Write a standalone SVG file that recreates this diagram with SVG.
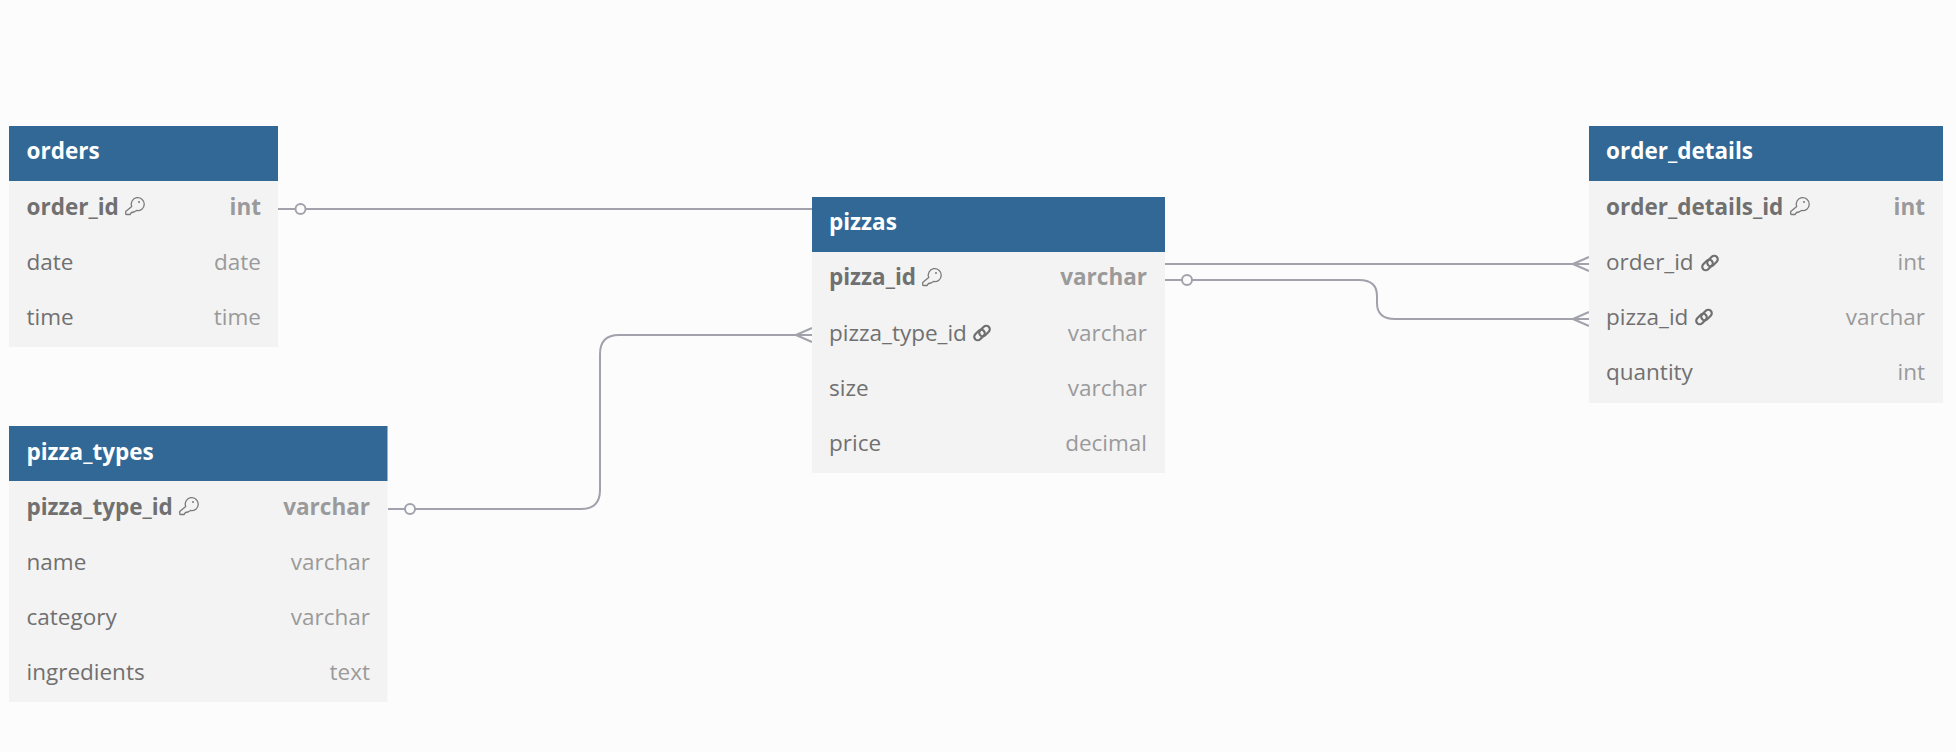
<svg xmlns="http://www.w3.org/2000/svg" width="1956" height="752" viewBox="0 0 1956 752">
<style>
text{font-family:"Open Sans","Noto Sans","DejaVu Sans",sans-serif;font-size:22.5px}
.h{fill:#316896}
.b{fill:#f3f3f3}
.t{fill:#fff;font-weight:700}
.n{fill:#707070}
.y{fill:#9a9a9a;text-anchor:end}
.pk{font-weight:700}
.c{fill:none;stroke:#a2a2ad;stroke-width:2}
.o{fill:#fcfcfc;stroke:#a2a2ad;stroke-width:2}
.k{fill:none;stroke:#7a7a7a;stroke-width:1.3;stroke-linejoin:round}
.l{fill:none;stroke:#6f6f6f;stroke-width:2.200}
</style>
<defs>
<symbol id="key" viewBox="0 0 19 19" overflow="visible"><path class="k" d="M6.700 9.500A6.500 6.500 0 1 1 11.500 13.500L9 15 6.500 15.500 5 17.500 1.500 17.500Q.7 17.500 .7 16.500V14.500Z"/><circle cx="14" cy="5" r="1" fill="#7a7a7a"/></symbol>
<symbol id="link" viewBox="0 0 18 18" overflow="visible"><rect class="l" x="5.500" y="3.500" width="12" height="7" rx="3.500" transform="rotate(-45 11.500 7)"/><rect class="l" x="0.500" y="7.500" width="12" height="7" rx="3.500" transform="rotate(-45 6.500 11)"/></symbol>
</defs>
<rect width="1956" height="752" fill="#fcfcfc"/>
<g id="connectors">
<path class="c" d="M278 209H812"/><circle class="o" cx="300.500" cy="209" r="5"/>
<path class="c" d="M388 509H581Q600 509 600 490V354Q600 335 619 335H812M796 335L812 328M796 335L812 342"/><circle class="o" cx="410" cy="509" r="5"/>
<path class="c" d="M1165 264H1589M1573 264L1589 257M1573 264L1589 271"/>
<path class="c" d="M1165 280H1359Q1377 280 1377 296V303Q1377 319 1395 319H1589M1573 319L1589 312M1573 319L1589 326"/><circle class="o" cx="1187" cy="280" r="5"/>
</g>
<g id="orders">
<rect class="b" x="9" y="126" width="269" height="221"/><rect class="h" x="9" y="126" width="269" height="55"/>
<text class="t" x="26.500" y="159">orders</text>
<text class="n pk" x="26.500" y="215">order_id</text><use href="#key" x="125" y="197" width="19" height="19"/><text class="y pk" x="261" y="215">int</text>
<text class="n" x="26.500" y="270">date</text><text class="y" x="261" y="270">date</text>
<text class="n" x="26.500" y="325">time</text><text class="y" x="261" y="325">time</text>
</g>
<g id="pizza_types">
<rect class="b" x="9" y="426" width="378.500" height="276"/><rect class="h" x="9" y="426" width="378.500" height="55"/>
<text class="t" x="26.500" y="460">pizza_types</text>
<text class="n pk" x="26.500" y="515">pizza_type_id</text><use href="#key" x="179" y="497" width="19" height="19"/><text class="y pk" x="370" y="515">varchar</text>
<text class="n" x="26.500" y="570">name</text><text class="y" x="370" y="570">varchar</text>
<text class="n" x="26.500" y="625">category</text><text class="y" x="370" y="625">varchar</text>
<text class="n" x="26.500" y="680">ingredients</text><text class="y" x="370" y="680">text</text>
</g>
<g id="pizzas">
<rect class="b" x="812" y="197" width="353" height="276"/><rect class="h" x="812" y="197" width="353" height="55"/>
<text class="t" x="829" y="230">pizzas</text>
<text class="n pk" x="829" y="285">pizza_id</text><use href="#key" x="922" y="268" width="19" height="19"/><text class="y pk" x="1147" y="285">varchar</text>
<text class="n" x="829" y="341">pizza_type_id</text><use href="#link" x="973" y="324" width="18" height="18"/><text class="y" x="1147" y="341">varchar</text>
<text class="n" x="829" y="396">size</text><text class="y" x="1147" y="396">varchar</text>
<text class="n" x="829" y="451">price</text><text class="y" x="1147" y="451">decimal</text>
</g>
<g id="order_details">
<rect class="b" x="1589" y="126" width="354" height="277"/><rect class="h" x="1589" y="126" width="354" height="55"/>
<text class="t" x="1606" y="159">order_details</text>
<text class="n pk" x="1606" y="215">order_details_id</text><use href="#key" x="1790" y="197" width="19" height="19"/><text class="y pk" x="1925" y="215">int</text>
<text class="n" x="1606" y="270">order_id</text><use href="#link" x="1701" y="254" width="18" height="18"/><text class="y" x="1925" y="270">int</text>
<text class="n" x="1606" y="325">pizza_id</text><use href="#link" x="1695" y="308" width="18" height="18"/><text class="y" x="1925" y="325">varchar</text>
<text class="n" x="1606" y="380">quantity</text><text class="y" x="1925" y="380">int</text>
</g>
</svg>
